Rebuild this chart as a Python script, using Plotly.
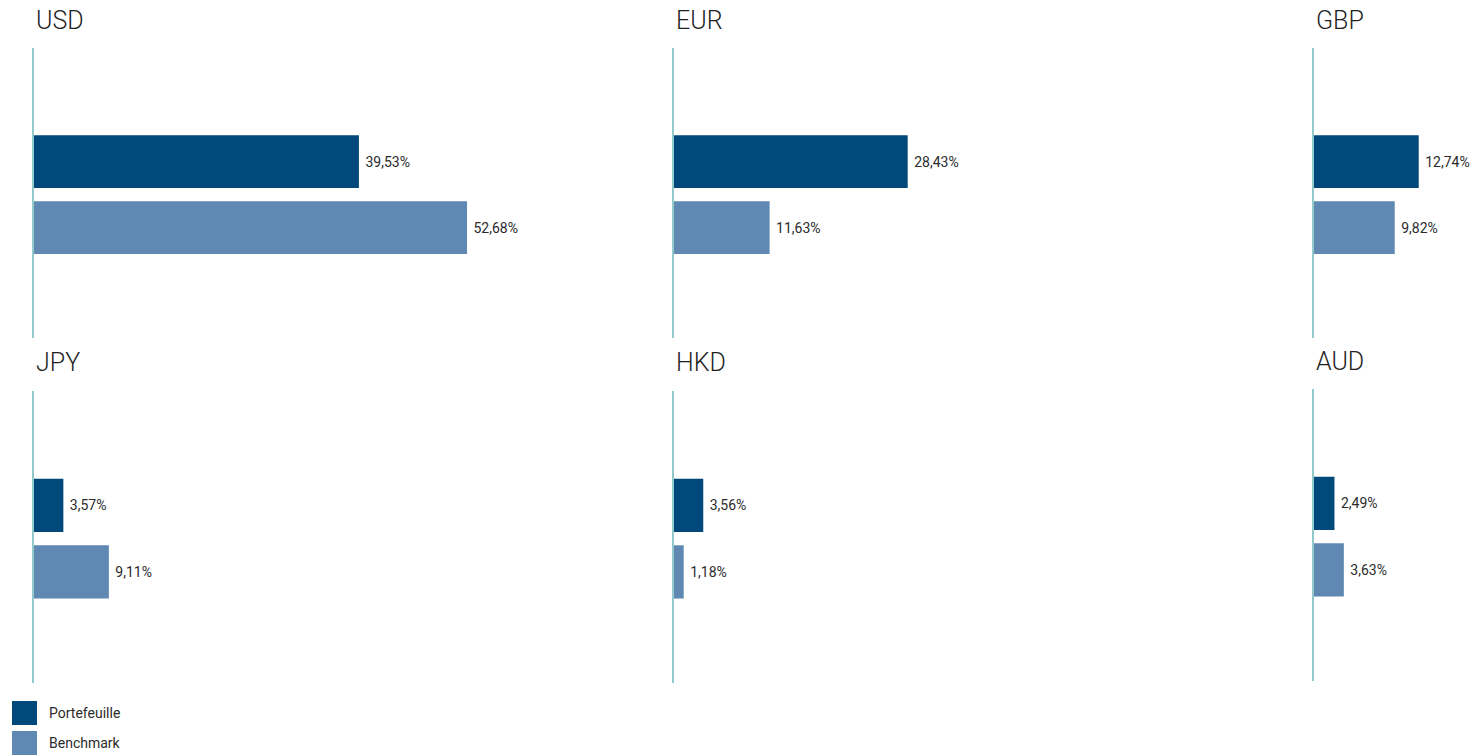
import plotly.graph_objects as go

currencies = ["USD", "EUR", "GBP", "JPY", "HKD", "AUD"]
series_names = ["Portefeuille", "Benchmark"]
portefeuille = [39.53, 28.43, 12.74, 3.57, 3.56, 2.49]
benchmark = [52.68, 11.63, 9.82, 9.11, 1.18, 3.63]

colors = ["#00497a", "#5f88b2"]
line_color = "#94c9cc"
text_color = "#2b2b2b"
font_family = "Roboto, 'Noto Sans', sans-serif"

W, H = 1479, 756
PX_PER_UNIT = 8.22
col_x0 = [34, 674, 1314]
col_w = [600, 600, 165]
row_top = [48, 391]
row_bot = [338, 683]
row_shift = {5: -2}

fig = go.Figure()
annotations = []
layout_axes = {}
for i, cur in enumerate(currencies):
    r, c = divmod(i, 3)
    shift = row_shift.get(i, 0)
    x0 = col_x0[c]
    w = col_w[c]
    top = row_top[r] + shift
    bot = row_bot[r] + shift
    n = i + 1
    xa = "x" if n == 1 else f"x{n}"
    ya = "y" if n == 1 else f"y{n}"
    vals = [portefeuille[i], benchmark[i]]
    fig.add_trace(go.Bar(
        x=vals, y=series_names, orientation="h",
        marker=dict(color=colors, line=dict(width=0)),
        width=0.8,
        text=vals, texttemplate="\u00a0%{x:.2f}%", textposition="outside",
        textfont=dict(size=14, color=text_color, family=font_family),
        cliponaxis=False, hoverinfo="skip", showlegend=False,
        xaxis=xa, yaxis=ya,
    ))
    xkey = "xaxis" if n == 1 else f"xaxis{n}"
    ykey = "yaxis" if n == 1 else f"yaxis{n}"
    layout_axes[xkey] = dict(
        domain=[x0 / W, min(1.0, (x0 + w) / W)],
        range=[0, w / PX_PER_UNIT], visible=False, anchor=ya,
        showgrid=False, zeroline=False, fixedrange=True,
    )
    layout_axes[ykey] = dict(
        domain=[(H - bot) / H, (H - top) / H],
        range=[2.67, -1.72], anchor=xa, type="category",
        showticklabels=False, ticks="", showgrid=False, zeroline=False,
        showline=True, linecolor=line_color, linewidth=1.5, fixedrange=True,
    )
    annotations.append(dict(
        text=cur, x=x0 / W, y=(H - (top - 28)) / H,
        xref="paper", yref="paper", xanchor="left", yanchor="middle",
        showarrow=False,
        font=dict(size=25, color="#1f1f1f", family=font_family, weight=300),
    ))

shapes = []
leg_y = [701, 731]
for k, name in enumerate(series_names):
    y0 = leg_y[k]
    shapes.append(dict(
        type="rect", xref="paper", yref="paper",
        x0=12 / W, x1=37 / W, y0=(H - y0 - 24) / H, y1=(H - y0) / H,
        fillcolor=colors[k], line=dict(width=0),
    ))
    annotations.append(dict(
        text=name, x=47 / W, y=(H - y0 - 12) / H,
        xref="paper", yref="paper", xanchor="left", yanchor="middle",
        showarrow=False, font=dict(size=14, color=text_color, family=font_family),
    ))

fig.update_layout(
    width=W, height=H,
    margin=dict(l=0, r=0, t=0, b=0),
    paper_bgcolor="white", plot_bgcolor="white",
    separators=", ",
    barmode="overlay",
    showlegend=False,
    annotations=annotations,
    shapes=shapes,
    font=dict(family=font_family),
    **layout_axes,
)

fig.write_html(
    "out.html",
    config={"displayModeBar": False},
    post_script="document.body.style.margin='0';document.body.style.overflow='hidden';",
)
